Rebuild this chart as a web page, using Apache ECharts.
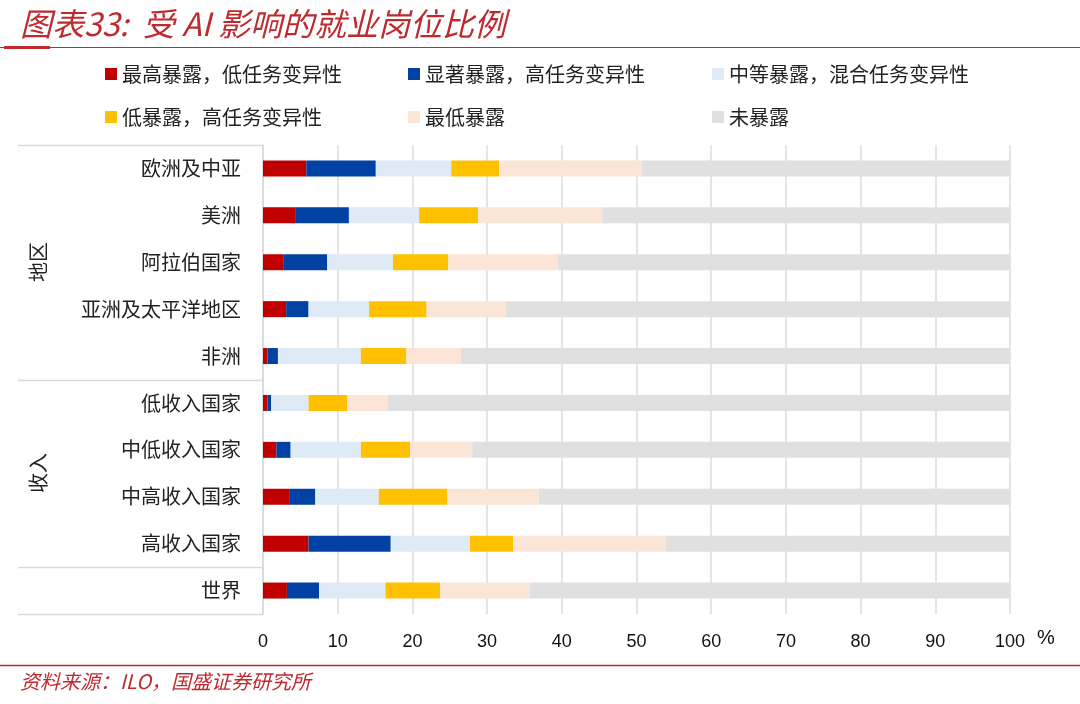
<!DOCTYPE html>
<html>
<head>
<meta charset="utf-8">
<style>
  html, body { margin: 0; padding: 0; background: #fff; }
  #main { width: 1080px; height: 704px; }
</style>
<script src="https://cdn.jsdelivr.net/npm/echarts@6/dist/echarts.min.js"></script>
</head>
<body>
<div id="main"></div>
<script>
// 数据（单位：%）
var categories = ['欧洲及中亚', '美洲', '阿拉伯国家', '亚洲及太平洋地区', '非洲',
                  '低收入国家', '中低收入国家', '中高收入国家', '高收入国家', '世界'];
var highestLowVar = [5.8, 4.4, 2.7, 3.1, 0.6, 0.6, 1.8, 3.6, 6.1, 3.2];
var significantHighVar = [9.3, 7.1, 5.9, 3.0, 1.4, 0.5, 1.9, 3.4, 11.0, 4.3];
var mediumMixed = [10.1, 9.4, 8.8, 8.1, 11.1, 5.0, 9.4, 8.5, 10.6, 8.9];
var lowHighVar = [6.4, 7.9, 7.4, 7.7, 6.1, 5.2, 6.6, 9.2, 5.8, 7.3];
var lowest = [19.1, 16.6, 14.7, 10.6, 7.3, 5.4, 8.3, 12.2, 20.4, 12.0];
var notExposed = [49.3, 54.6, 60.5, 67.5, 73.5, 83.3, 72.0, 63.1, 46.1, 64.3];
var xTicks = [0, 10, 20, 30, 40, 50, 60, 70, 80, 90, 100];

var seriesNames = ['最高暴露，低任务变异性', '显著暴露，高任务变异性', '中等暴露，混合任务变异性',
                   '低暴露，高任务变异性', '最低暴露', '未暴露'];
var seriesData = [highestLowVar, significantHighVar, mediumMixed, lowHighVar, lowest, notExposed];
var colors = ['#C00000', '#0041A3', '#DEEAF6', '#FFC000', '#FBE5D6', '#E0E0E0'];

var cjk = '"Noto Sans CJK SC", sans-serif';
var red = '#BE2A2E';

// 布局
var G = { left: 263, right: 70, top: 145, height: 469 };
var boxLeft = 18;
var rowH = G.height / categories.length;
var legendCols = [100, 403, 707];
var legendRows = [59, 102];

var chart = echarts.init(document.getElementById('main'));

var series = seriesNames.map(function(name, i){
    return {
        name: name,
        type: 'bar',
        stack: 'total',
        barWidth: 16,
        itemStyle: { color: colors[i] },
        data: seriesData[i]
    };
});

// 每个图例单独放，保证三列对齐
var legends = seriesNames.map(function(name, i){
    return {
        left: legendCols[i % 3], top: legendRows[Math.floor(i / 3)],
        icon: 'rect', itemWidth: 12, itemHeight: 12, selectedMode: false,
        textStyle: { fontFamily: cjk, fontSize: 20, color: '#222' },
        data: [name]
    };
});

function sepLine(k){
    var y = Math.round(G.top + rowH * k) + 0.5;
    return { type: 'line', shape: { x1: boxLeft, y1: y, x2: G.left, y2: y },
             style: { stroke: '#D9D9D9', lineWidth: 1.5 } };
}

function groupLabel(text, k){
    return { type: 'text', x: 38, y: Math.round(G.top + rowH * k), rotation: Math.PI / 2,
             style: { text: text, fill: '#222', font: '20px ' + cjk,
                      textAlign: 'center', textVerticalAlign: 'middle' } };
}

var option = {
    backgroundColor: '#fff',
    animation: false,
    legend: legends,
    grid: { left: G.left, right: G.right, top: G.top, height: G.height, containLabel: false },
    xAxis: {
        type: 'value', min: 0, max: 100, interval: 10,
        axisLine: { show: false }, axisTick: { show: false },
        splitLine: { lineStyle: { color: '#DCDCDC', width: 1.5 } },
        axisLabel: {
            margin: 19, fontSize: 18, color: '#111', fontFamily: 'Liberation Sans',
            formatter: function(v){ return xTicks.indexOf(v) >= 0 ? String(v) : ''; }
        }
    },
    yAxis: {
        type: 'category', inverse: true, data: categories,
        axisLine: { lineStyle: { color: '#D9D9D9', width: 1.5 } },
        axisTick: { show: false },
        axisLabel: { margin: 22, fontSize: 20, color: '#222', fontFamily: cjk }
    },
    series: series,
    graphic: [
        { type: 'text', left: 20, top: 8,
          style: { text: '图表33:  受 AI 影响的就业岗位比例', fill: red,
                   font: 'italic 32px ' + cjk } },
        { type: 'line', shape: { x1: 0, y1: 47.5, x2: 1080, y2: 47.5 },
          style: { stroke: red, lineWidth: 1 } },
        { type: 'line', shape: { x1: 4, y1: 47.5, x2: 50, y2: 47.5 },
          style: { stroke: red, lineWidth: 3 } },
        sepLine(0), sepLine(5), sepLine(9), sepLine(10),
        groupLabel('地区', 2.5),
        groupLabel('收入', 7),
        { type: 'text', left: 1037, top: 628,
          style: { text: '%', fill: '#111', font: '20px Liberation Sans' } },
        { type: 'line', shape: { x1: 0, y1: 665.5, x2: 1080, y2: 665.5 },
          style: { stroke: red, lineWidth: 1.5 } },
        { type: 'text', left: 20, top: 671,
          style: { text: '资料来源：ILO，国盛证券研究所', fill: red,
                   font: 'italic 20px ' + cjk } }
    ]
};

chart.setOption(option);
</script>
</body>
</html>
